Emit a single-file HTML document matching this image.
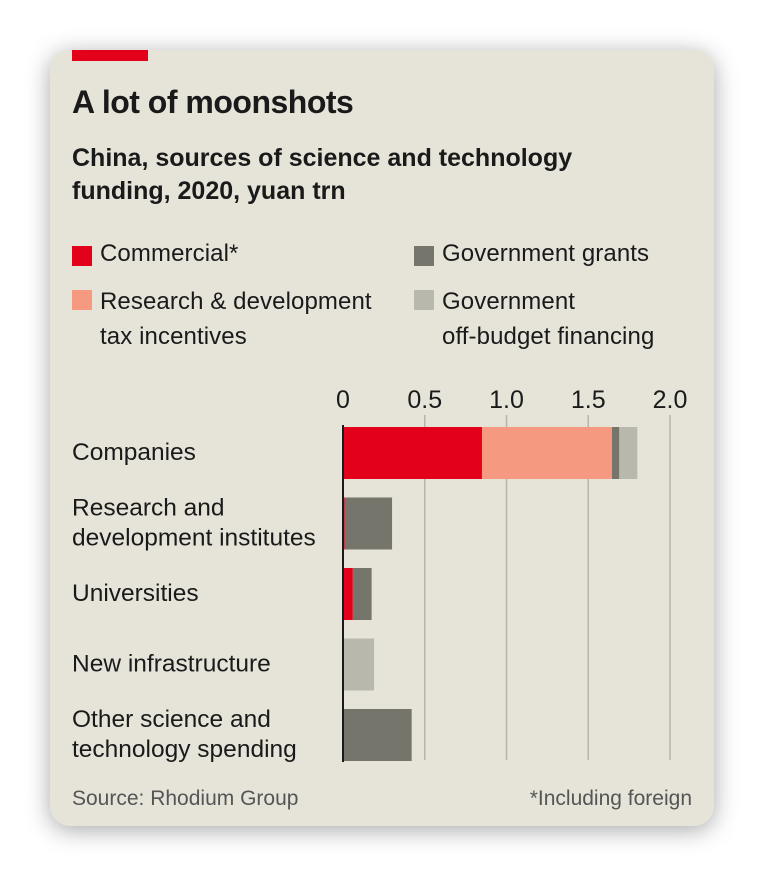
<!DOCTYPE html>
<html><head><meta charset="utf-8"><style>
body{margin:0;width:764px;height:876px;background:#fff;position:relative;overflow:hidden;font-family:"Liberation Sans",sans-serif;}
#card{position:absolute;left:50px;top:50px;width:664px;height:776px;background:#e6e4d9;border-radius:20px;box-shadow:0 4px 24px rgba(0,0,0,0.35);overflow:hidden;}
.t{position:absolute;color:#1a1a1a;white-space:nowrap;}
.sw{position:absolute;width:20px;height:20px;}
</style></head><body>
<div id="card">
<div style="position:absolute;left:22px;top:0;width:76px;height:11px;background:#e3001b"></div>
<div class="t" style="left:22px;top:34px;font-size:32px;font-weight:bold;letter-spacing:-0.5px">A lot of moonshots</div>
<div class="t" style="left:22px;top:92px;font-size:25px;font-weight:bold;line-height:33px;letter-spacing:0px">China, sources of science and technology<br>funding, 2020, yuan trn</div>
<div class="sw" style="left:22px;top:196px;background:#e3001b"></div>
<div class="t" style="left:50px;top:190px;font-size:24px;letter-spacing:0.1px">Commercial*</div>
<div class="sw" style="left:22px;top:240px;background:#f59a80"></div>
<div class="t" style="left:50px;top:234px;font-size:24px;line-height:35px;letter-spacing:0.1px">Research &amp; development<br>tax incentives</div>
<div class="sw" style="left:364px;top:196px;background:#75756b"></div>
<div class="t" style="left:392px;top:190px;font-size:24px;letter-spacing:0.1px">Government grants</div>
<div class="sw" style="left:364px;top:240px;background:#b8b8ad"></div>
<div class="t" style="left:392px;top:234px;font-size:24px;line-height:35px;letter-spacing:0.1px">Government<br>off-budget financing</div>
<svg id="chart" width="664" height="776" style="position:absolute;left:0;top:0"></svg>
<div class="t" style="left:22px;top:737px;font-size:21px;color:#555">Source: Rhodium Group</div>
<div class="t" style="right:22px;top:737px;font-size:21px;color:#555">*Including foreign</div>
</div>
<script>
const categories=["Companies","Research and\ndevelopment institutes","Universities","New infrastructure","Other science and\ntechnology spending"];
const commercial=[0.85,0.01,0.06,0,0];
const taxIncentives=[0.795,0,0,0,0];
const grants=[0.045,0.29,0.115,0,0.42];
const offBudget=[0.11,0,0,0.19,0];
const ticks=[0,0.5,1.0,1.5,2.0];
const tickLabels=["0","0.5","1.0","1.5","2.0"];
const seriesNames=["commercial","tax","grants","offbudget"];
const colors=["#e3001b","#f59a80","#75756b","#b8b8ad"];
const NS="http://www.w3.org/2000/svg";
const svg=document.getElementById('chart');
const x0=293,k=163.5,top0=377,step=70.5,bh=52;
const xs=v=>x0+v*k;
const ys=i=>top0+i*step;
function mk(t,a){const e=document.createElementNS(NS,t);for(const n in a)e.setAttribute(n,a[n]);svg.appendChild(e);return e;}
ticks.forEach((t,i)=>{
  if(i>0){const l=mk('line',{x1:xs(t),x2:xs(t),y1:365,y2:710,stroke:'#b5b5ad','stroke-width':1.5});
  
  }
  const tx=mk('text',{x:xs(t),y:358,'font-size':25,'text-anchor':'middle',fill:'#1a1a1a','font-family':'Liberation Sans, sans-serif'});
  tx.textContent=tickLabels[i];
  
  
});
const series=[commercial,taxIncentives,grants,offBudget];
categories.forEach((c,i)=>{
  let acc=0;
  series.forEach((s,j)=>{
    const v=s[i];if(v<=0)return;
    const r=mk('rect',{x:xs(acc),y:ys(i),width:v*k,height:bh,fill:colors[j]});
    
    
    acc+=v;
  });
  const lines=c.split("\n");
  const tx=mk('text',{x:22,y:0,'font-size':24.5,fill:'#1a1a1a','font-family':'Liberation Sans, sans-serif'});
  
  
  const cy=ys(i)+bh/2;
  lines.forEach((ln,m)=>{const ts=document.createElementNS(NS,'tspan');ts.setAttribute('x',22);
    ts.setAttribute('y',cy+7+(m-(lines.length-1)/2)*30);ts.textContent=ln;tx.appendChild(ts);});
});
const ax=mk('line',{x1:x0,x2:x0,y1:top0-2,y2:712,stroke:'#1a1a1a','stroke-width':2});


</script>
</body></html>
